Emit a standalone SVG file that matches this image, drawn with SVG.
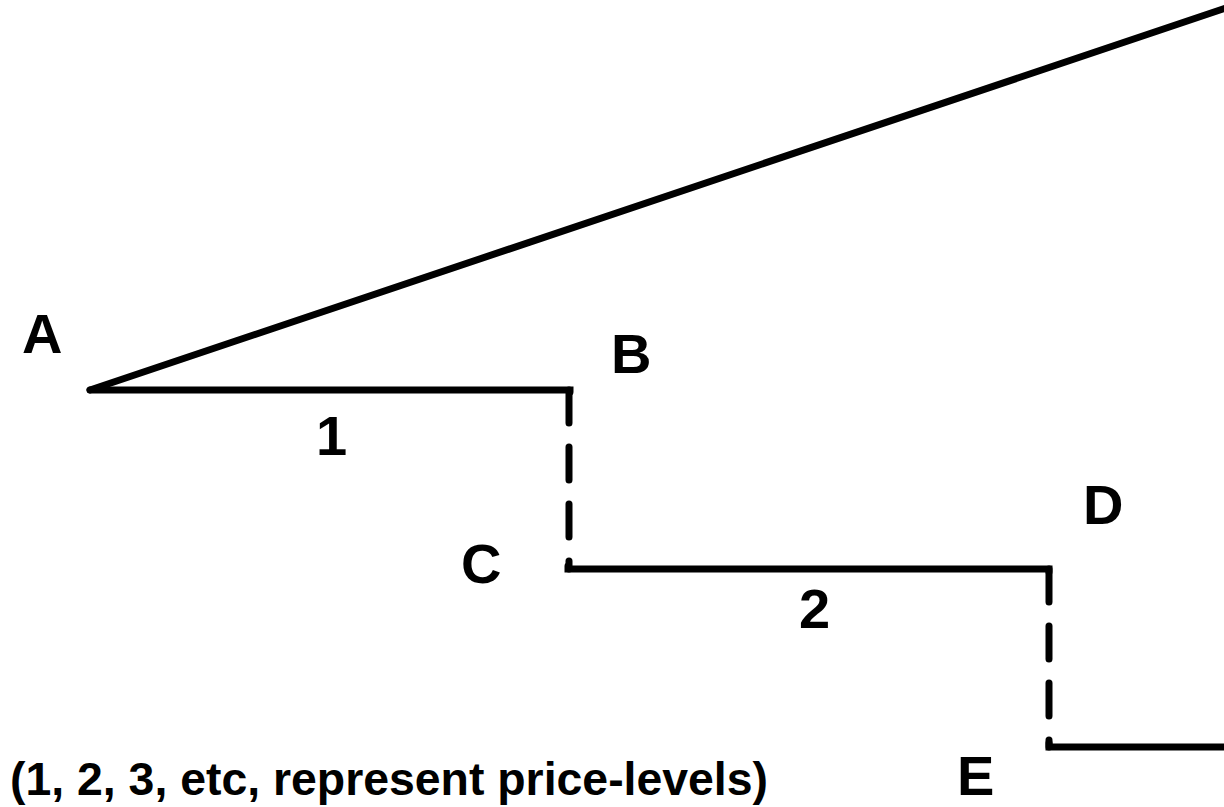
<svg xmlns="http://www.w3.org/2000/svg" width="1224" height="807" viewBox="0 0 1224 807">
<style>
.ln{stroke:#000;stroke-width:7;fill:none;stroke-linecap:round;stroke-linejoin:miter}
.dash{stroke:#000;stroke-width:7;fill:none;stroke-linecap:round;stroke-dasharray:33 24}
.lbl{font-family:"Liberation Sans",Arial,sans-serif;font-weight:bold;font-size:56px;fill:#000}
.cap{font-family:"Liberation Sans",Arial,sans-serif;font-weight:bold;font-size:46px;fill:#000}
</style>
<rect width="1224" height="807" fill="#fff"/>
<g id="connectors">
<line class="ln" x1="90" y1="390" x2="1226" y2="8"/>
<polyline class="ln" points="90,390 570,390 570,392"/>
<line class="dash" x1="569" y1="390" x2="569" y2="569"/>
<polyline class="ln" points="568,566 568,569 1049,569 1049,572"/>
<line class="dash" x1="1049" y1="569" x2="1049" y2="747"/>
<polyline class="ln" points="1049,743 1049,747 1226,747"/>
</g>
<g id="node-A"><text class="lbl" x="22" y="353">A</text></g>
<g id="node-B"><text class="lbl" x="611" y="373">B</text></g>
<g id="node-C"><text class="lbl" x="461" y="583">C</text></g>
<g id="node-D"><text class="lbl" x="1083" y="524">D</text></g>
<g id="node-E"><text class="lbl" x="957" y="795">E</text></g>
<g id="label-1"><text class="lbl" x="316" y="455">1</text></g>
<g id="label-2"><text class="lbl" x="799" y="628">2</text></g>
<g id="caption"><text class="cap" x="10" y="795" textLength="758" lengthAdjust="spacingAndGlyphs">(1, 2, 3, etc, represent price-levels)</text></g>
</svg>
